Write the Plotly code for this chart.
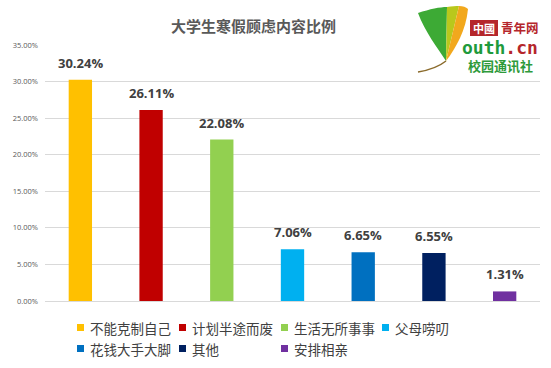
import plotly.graph_objects as go

categories = ["不能克制自己", "计划半途而废", "生活无所事事", "父母唠叨", "花钱大手大脚", "其他", "安排相亲"]
values = [0.3024, 0.2611, 0.2208, 0.0706, 0.0665, 0.0655, 0.0131]
colors = ["#FFC000", "#C00000", "#92D050", "#00B0F0", "#0070C0", "#002060", "#7030A0"]
y_ticks = [0, 0.05, 0.10, 0.15, 0.20, 0.25, 0.30, 0.35]
title_text = "大学生寒假顾虑内容比例"

W, H = 551, 368
ML, MR, MT, MB = 45, 11, 45, 67
PW, PH = W - ML - MR, H - MT - MB


def px(x):
    return (x - ML) / PW


def py(y):
    return (H - MB - y) / PH


fig = go.Figure()
for cat, val, col in zip(categories, values, colors):
    fig.add_trace(go.Bar(x=[cat], y=[val], name=cat, marker=dict(color=col, line=dict(width=0)),
                         width=0.33, showlegend=False))

annotations = []
for cat, val in zip(categories, values):
    annotations.append(dict(x=cat, y=val, xref="x", yref="y", text=f"{val*100:.2f}%",
                            showarrow=False, yanchor="bottom", yshift=6,
                            font=dict(family="Open Sans", size=13, color="#404040", weight="bold")))

# title
annotations.append(dict(x=px(253), y=py(25), xref="paper", yref="paper", text=title_text, showarrow=False,
                        xanchor="center", yanchor="middle",
                        font=dict(family="Noto Sans CJK SC", size=15, color="#595959", weight="bold")))

shapes = []
# manual legend
col_x = [77, 179, 281, 382]
row_y = [327.5, 348.5]
for i, (cat, col) in enumerate(zip(categories, colors)):
    r, c = divmod(i, 4)
    sx, sy = col_x[c], row_y[r]
    shapes.append(dict(type="rect", xref="paper", yref="paper", x0=px(sx), x1=px(sx + 7),
                       y0=py(sy - 3.5), y1=py(sy + 3.5), fillcolor=col, line=dict(width=0), layer="above"))
    annotations.append(dict(x=px(sx + 11), y=py(sy), xref="paper", yref="paper", text=cat, showarrow=False,
                            xanchor="left", yanchor="middle",
                            font=dict(family="Noto Sans CJK SC", size=13.5, color="#404040")))

# logo background
shapes.append(dict(type="rect", xref="paper", yref="paper", x0=px(457), x1=px(546), y0=py(74), y1=py(14),
                   fillcolor="white", line=dict(width=0), layer="above"))

leaf_green = "M {} {} C {} {} {} {} {} {} L {} {} C {} {} {} {} {} {} Z".format(
    px(418), py(13), px(430), py(9), px(440), py(7), px(447), py(7),
    px(446), py(61), px(437), py(47), px(425), py(32), px(418), py(13))
leaf_mid = "M {} {} C {} {} {} {} {} {} L {} {} Z".format(
    px(447), py(7), px(452), py(6), px(456), py(6), px(459), py(6),
    px(446), py(61))
leaf_orange = "M {} {} C {} {} {} {} {} {} C {} {} {} {} {} {} Z".format(
    px(459), py(6), px(463), py(6), px(466), py(7), px(468), py(9),
    px(466), py(30), px(456), py(48), px(446), py(61))
stem = "M {} {} Q {} {} {} {}".format(px(446), py(61), px(436), py(69), px(418), py(72))
shapes.append(dict(type="path", xref="paper", yref="paper", path=leaf_green, fillcolor="#3DAA35",
                   line=dict(width=0), layer="above"))
shapes.append(dict(type="path", xref="paper", yref="paper", path=leaf_mid, fillcolor="#B9C81C",
                   line=dict(width=0), layer="above"))
shapes.append(dict(type="path", xref="paper", yref="paper", path=leaf_orange, fillcolor="#F2A81D",
                   line=dict(width=0), layer="above"))
shapes.append(dict(type="path", xref="paper", yref="paper", path=stem,
                   line=dict(width=1.5, color="#8A6A2A"), layer="above"))
shapes.append(dict(type="rect", xref="paper", yref="paper", x0=px(470), x1=px(498), y0=py(36), y1=py(20),
                   fillcolor="#B5262B", line=dict(width=0), layer="above"))

logo_box = dict(borderpad=0, borderwidth=0, showarrow=False, xref="paper", yref="paper", yanchor="middle")
annotations.append(dict(x=px(484), y=py(28), text="中國", xanchor="center",
                        font=dict(family="Noto Sans CJK TC", size=11, color="white", weight="bold"), **logo_box))
annotations.append(dict(x=px(520), y=py(27.5), text="青年网", xanchor="center",
                        font=dict(family="Noto Sans CJK SC", size=12.5, color="#B5262B", weight="bold"),
                        **logo_box))
annotations.append(dict(x=px(500), y=py(47), xanchor="center",
                        text="<span style='color:#1E9A3C'>outh</span><span style='color:#B5262B'>.cn</span>",
                        font=dict(family="DejaVu Sans Mono", size=18, color="#1E9A3C", weight="bold"),
                        **logo_box))
annotations.append(dict(x=px(500), y=py(65.5), text="校园通讯社", xanchor="center",
                        font=dict(family="Noto Sans CJK SC", size=13, color="#2E9A3A", weight="bold"),
                        **logo_box))

fig.update_layout(
    width=W, height=H,
    margin=dict(l=ML, r=MR, t=MT, b=MB),
    paper_bgcolor="white", plot_bgcolor="white",
    barmode="overlay",
    showlegend=False,
    annotations=annotations,
    shapes=shapes,
    xaxis=dict(showticklabels=False, showgrid=False, zeroline=False, showline=False, ticks=""),
    yaxis=dict(range=[0, 0.35], tickvals=y_ticks, tickformat=".2%", showgrid=True, gridcolor="#D9D9D9",
               gridwidth=1, zeroline=True, zerolinecolor="#D9D9D9", zerolinewidth=1, showline=False,
               ticks="", ticklabelstandoff=6,
               tickfont=dict(family="Open Sans", size=7.5, color="#595959")),
)
fig.update_traces(cliponaxis=False)

fig.write_html("out.html", config={"displayModeBar": False},
               post_script="document.body.style.margin='0';document.body.style.overflow='hidden';")
